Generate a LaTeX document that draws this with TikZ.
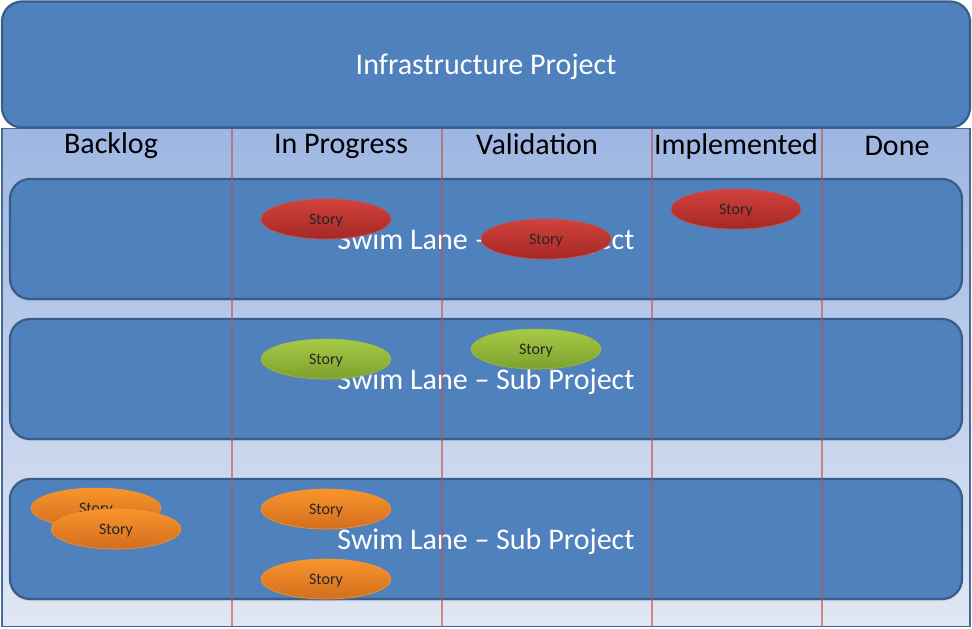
\documentclass[tikz,border=0pt]{standalone}
\usepackage{fontspec}
\setmainfont{Carlito}
\usetikzlibrary{shapes.geometric,shadows}
\definecolor{laneblue}{RGB}{79,129,189}
\definecolor{laneedge}{RGB}{56,93,138}
\definecolor{paneltop}{RGB}{157,182,226}
\definecolor{panelbot}{RGB}{225,231,243}
\definecolor{divider}{RGB}{192,80,77}
% text lowered on its baseline without changing the node box
\newcommand{\lowered}[2]{\raisebox{-#1}[0pt][0pt]{#2}}
\tikzset{
  bigbox/.style={draw=laneedge, line width=2.2pt, fill=laneblue, rounded corners=20pt,
    text=white, font=\fontsize{30}{34}\selectfont, inner sep=0pt},
  lane/.style={bigbox, minimum width=952pt, minimum height=120pt,
    drop shadow={shadow xshift=0pt, shadow yshift=-2pt, opacity=0.2}},
  header/.style={font=\fontsize{30}{34}\selectfont, text=black, inner sep=0pt},
  divline/.style={draw=divider, draw opacity=0.62, line width=2.6pt},
  story/.style={ellipse, minimum width=130pt, minimum height=40pt, inner sep=0pt,
    text height=12pt, text depth=2pt,
    font=\fontsize{16}{18}\selectfont, text=black!85, line width=0.6pt,
    drop shadow={shadow xshift=0pt, shadow yshift=-2pt, opacity=0.25}},
  redstory/.style={story, draw={rgb,255:red,200;green,80;blue,75}, top color={rgb,255:red,210;green,66;blue,60}, bottom color={rgb,255:red,165;green,40;blue,38}},
  greenstory/.style={story, draw={rgb,255:red,150;green,190;blue,70}, top color={rgb,255:red,168;green,202;blue,72}, bottom color={rgb,255:red,124;green,160;blue,44}},
  orangestory/.style={story, draw={rgb,255:red,240;green,150;blue,60}, top color={rgb,255:red,249;green,148;blue,44}, bottom color={rgb,255:red,210;green,110;blue,30}}
}
\begin{document}
\begin{tikzpicture}[x=1pt,y=-1pt]
\useasboundingbox (0,0) rectangle (972,629);

% board background below the project header
\node[draw={rgb,255:red,70;green,105;blue,150}, line width=1.8pt, top color=paneltop, bottom color=panelbot,
  minimum width=968pt, minimum height=498pt, inner sep=0pt] (board) at (486,377.5) {};

% project header
\node[bigbox, minimum width=968pt, minimum height=126pt] (project) at (486,64.5) {\lowered{9.5pt}{Infrastructure Project}};

% column headings
\node[header] (hBacklog) at (111,146) {Backlog};
\node[header] (hProgress) at (341,146) {In Progress};
\node[header] (hValid) at (537,144.5) {Validation};
\node[header] (hImpl) at (736,147) {Implemented};
\node[header] (hDone) at (897,146) {Done};

% swim lanes
\node[lane] (lane1) at (486,239) {\lowered{10.5pt}{Swim Lane – Sub Project}};
\node[lane] (lane2) at (486,379) {\lowered{10.5pt}{Swim Lane – Sub Project}};
\node[lane] (lane3) at (486,539) {\lowered{10.5pt}{Swim Lane – Sub Project}};

% column dividers
\foreach \x [count=\i] in {232,442,652,822} {
  \coordinate (dTop\i) at (\x,129);
  \coordinate (dBot\i) at (\x,627);
  \draw[divline] (dTop\i) -- (dBot\i);
}

% stories
\node[redstory] (r1) at (326,219) {Story};
\node[redstory] (r2) at (546,239) {Story};
\node[redstory] (r3) at (736,209) {Story};
\node[greenstory] (g1) at (326,359) {Story};
\node[greenstory] (g2) at (536,349) {Story};
\node[orangestory] (o1) at (96,508) {Story};
\node[orangestory] (o2) at (116,529) {Story};
\node[orangestory] (o3) at (326,509) {Story};
\node[orangestory] (o4) at (326,579) {Story};
\end{tikzpicture}
\end{document}
